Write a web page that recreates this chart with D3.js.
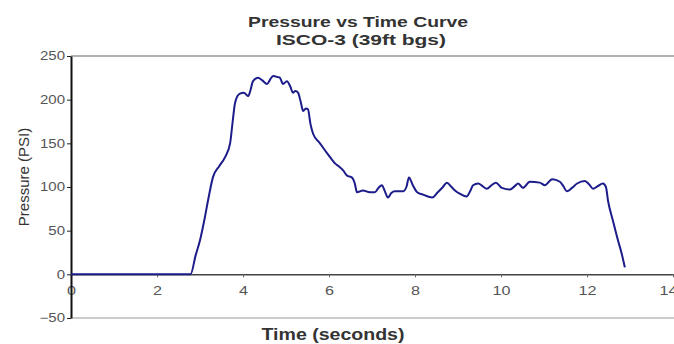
<!DOCTYPE html>
<html>
<head>
<meta charset="utf-8">
<script src="https://cdn.jsdelivr.net/npm/d3@7"></script>
<style>
  body { margin: 0; background: #fff; }
  text { font-family: "Liberation Sans", Arial, sans-serif; }
</style>
</head>
<body>
<script>
// time (s) and pressure (PSI)
var time = [0, 1, 2, 2.78, 2.9, 3.0, 3.1, 3.2, 3.3, 3.45, 3.58, 3.7, 3.76, 3.81, 3.87, 3.93, 4.02, 4.12,
  4.18, 4.23, 4.35, 4.45, 4.56, 4.63, 4.7, 4.8, 4.86, 4.93, 5.02, 5.1, 5.16, 5.22, 5.28, 5.34, 5.4, 5.46, 5.51,
  5.57, 5.63, 5.79, 5.95, 6.09, 6.14, 6.22, 6.33, 6.42, 6.53, 6.6, 6.65, 6.79, 6.95, 7.07, 7.15, 7.23, 7.3, 7.37,
  7.45, 7.53, 7.72, 7.8, 7.86, 7.95, 8.05, 8.2, 8.4, 8.53, 8.65, 8.74, 8.85, 8.93, 9.05, 9.2, 9.28, 9.35, 9.47,
  9.57, 9.67, 9.78, 9.88, 10.02, 10.21, 10.32, 10.4, 10.51, 10.67, 10.9, 11.02, 11.19, 11.37, 11.45, 11.53,
  11.65, 11.77, 11.95, 12.05, 12.14, 12.25, 12.37, 12.44, 12.49, 12.6, 12.72, 12.8, 12.88];
var pressure = [0, 0, 0, 0, 22, 39, 62, 88, 111, 124, 134, 150, 175, 195, 204, 207, 208, 204,
  212, 221, 225, 222, 218, 223, 227, 226, 225, 218, 221, 215, 208, 210, 208, 198, 187, 190, 189,
  172, 161, 150, 139, 130, 127, 124, 119, 113, 111, 104, 94, 96, 94, 94, 99, 102, 95, 88,
  93, 95, 95, 100, 111, 102, 94, 91, 88, 94, 100, 105, 100, 96, 92, 89, 95, 102, 104,
  101, 98, 102, 105, 99, 97, 101, 104, 99, 106, 105, 102, 109, 106, 101, 95,
  99, 104, 107, 103, 98, 101, 104, 100, 84, 62, 39, 25, 8];
var xTicks = [0, 2, 4, 6, 8, 10, 12, 14];
var yTicks = [-50, 0, 50, 100, 150, 200, 250];

var width = 674, height = 344;
var svg = d3.select("body").append("svg")
  .attr("width", width)
  .attr("height", height);

var x = d3.scaleLinear().domain([0, 14]).range([71, 673]);
var y = d3.scaleLinear().domain([-50, 250]).range([318, 56]);

// widen text the way the original rendering does
function stretch(sel, k) {
  sel.each(function () {
    var len = this.getComputedTextLength();
    d3.select(this).attr("textLength", len * k).attr("lengthAdjust", "spacingAndGlyphs");
  });
}
function fit(sel, w) {
  sel.attr("textLength", w).attr("lengthAdjust", "spacingAndGlyphs");
}

// titles
fit(svg.append("text").attr("x", 358).attr("y", 27).attr("text-anchor", "middle")
  .style("font-size", "15px").style("font-weight", "bold").attr("fill", "#333")
  .text("Pressure vs Time Curve"), 220);
fit(svg.append("text").attr("x", 361).attr("y", 45).attr("text-anchor", "middle")
  .style("font-size", "15px").style("font-weight", "bold").attr("fill", "#333")
  .text("ISCO-3 (39ft bgs)"), 170);

// plot frame (top and bottom)
svg.append("line").attr("x1", 71).attr("x2", width).attr("y1", y(250)).attr("y2", y(250))
  .attr("stroke", "#999").attr("stroke-width", 1.5);
svg.append("line").attr("x1", 71).attr("x2", width).attr("y1", y(-50)).attr("y2", y(-50))
  .attr("stroke", "#bbb").attr("stroke-width", 1.5);

// x axis at y = 0
var xAxis = svg.append("g").attr("transform", "translate(0," + y(0) + ")")
  .call(d3.axisBottom(x).tickValues(xTicks).tickSize(3).tickSizeOuter(0).tickPadding(9));
xAxis.select(".domain").attr("stroke", "#444").attr("stroke-width", 1.5);
xAxis.selectAll(".tick line").attr("stroke", "#666");
xAxis.selectAll("text").style("font-size", "12px").attr("fill", "#555")
  .style("font-family", "\"Liberation Sans\", Arial, sans-serif");
stretch(xAxis.selectAll("text"), 1.35);
// last label sits against the right edge, as in the original
xAxis.selectAll(".tick text").filter(function (d) { return d === 14; }).attr("x", -5);

// y axis
var yAxis = svg.append("g").attr("transform", "translate(71,0)")
  .call(d3.axisLeft(y).tickValues(yTicks).tickSize(4).tickSizeOuter(0).tickPadding(2));
yAxis.select(".domain").attr("stroke", "#111").attr("stroke-width", 2);
yAxis.selectAll(".tick line").attr("stroke", "#222");
yAxis.selectAll("text").style("font-size", "12px").attr("fill", "#555")
  .style("font-family", "\"Liberation Sans\", Arial, sans-serif");
stretch(yAxis.selectAll("text"), 1.25);

// axis titles
fit(svg.append("text").attr("x", 333).attr("y", 340).attr("text-anchor", "middle")
  .style("font-size", "16px").style("font-weight", "bold").attr("fill", "#333")
  .text("Time (seconds)"), 143);
svg.append("text").attr("transform", "translate(29,177) rotate(-90)").attr("text-anchor", "middle")
  .style("font-size", "15px").attr("fill", "#333")
  .text("Pressure (PSI)");

// curve
var pts = time.map(function (t, i) { return [t, pressure[i]]; });
var line = d3.line()
  .x(function (d) { return x(d[0]); })
  .y(function (d) { return y(d[1]); })
  .curve(d3.curveMonotoneX);
svg.append("path").datum(pts)
  .attr("d", line)
  .attr("fill", "none")
  .attr("stroke", "#1c1c8a")
  .attr("stroke-width", 2);
</script>
</body>
</html>
